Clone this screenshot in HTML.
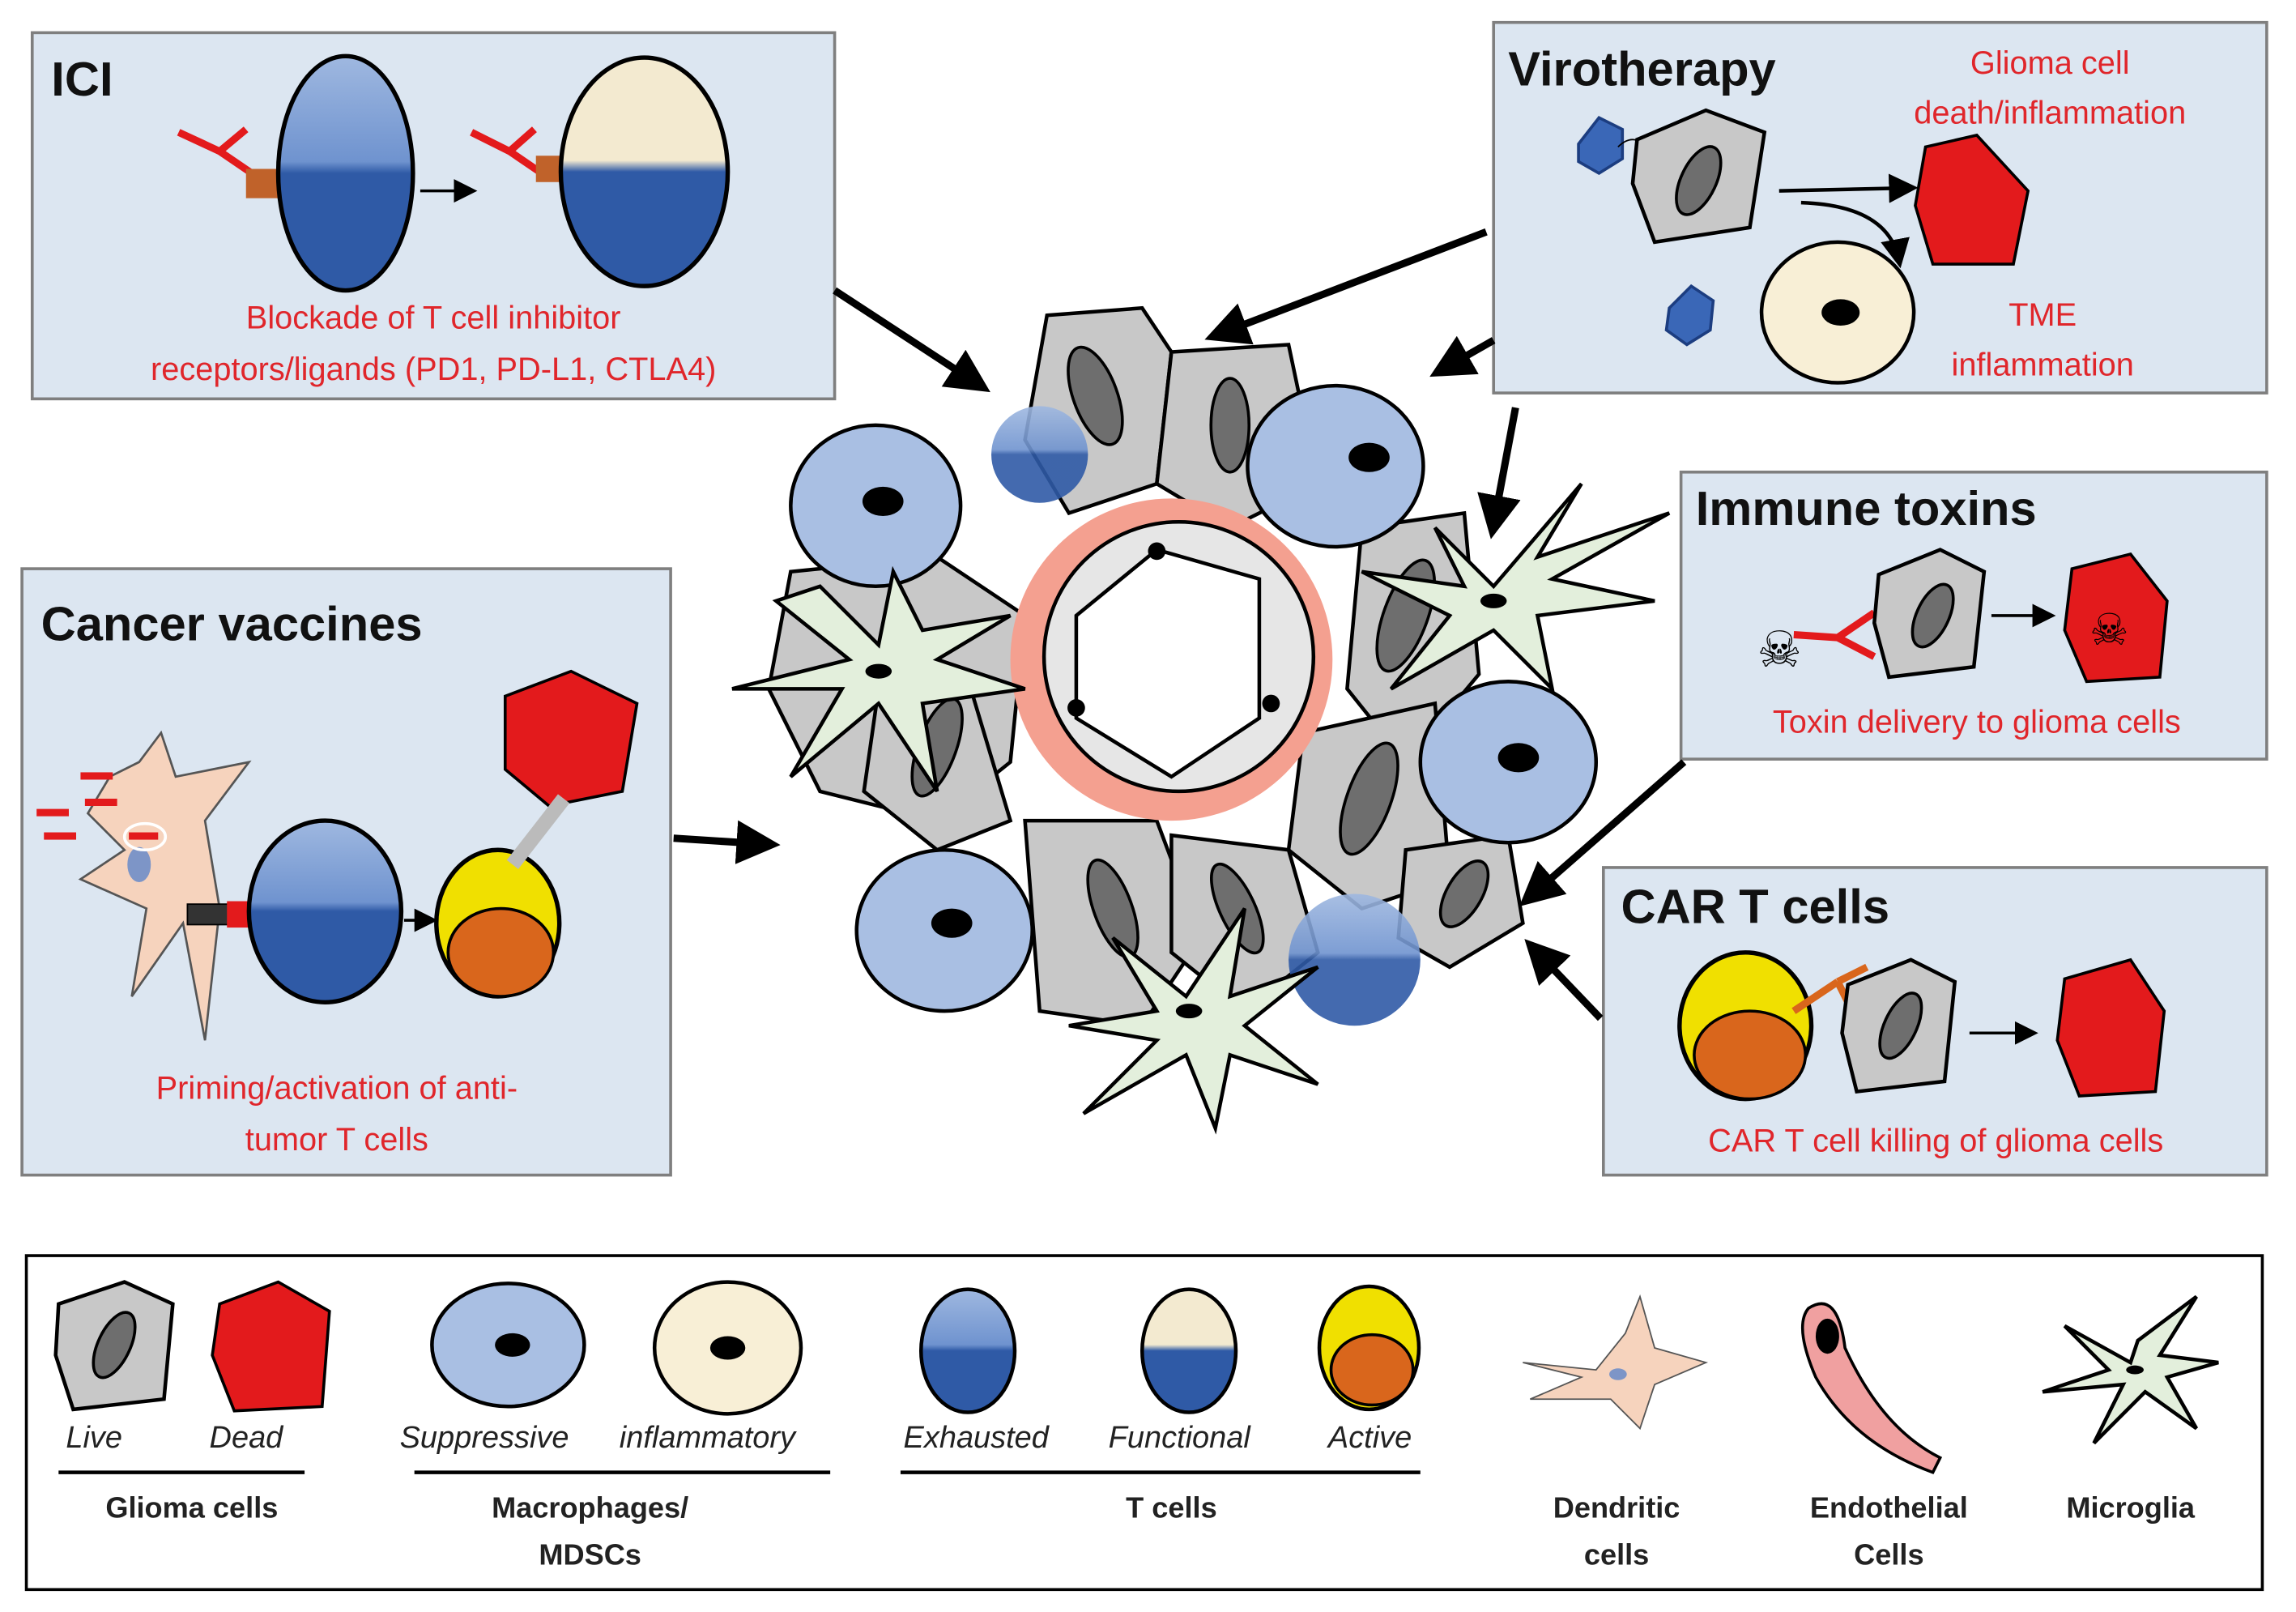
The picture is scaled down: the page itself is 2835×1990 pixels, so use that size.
<!DOCTYPE html>
<html><head><meta charset="utf-8"><style>
html,body{margin:0;padding:0;background:#fff}
svg{display:block}
text{font-family:"Liberation Sans",sans-serif}
.t{font-weight:bold;font-size:33px;fill:#111}
.r{font-size:22px;fill:#e0262b}
.l{font-size:21px;font-style:italic;fill:#222}
.b{font-size:20px;font-weight:bold;fill:#222}
.box{fill:#dce6f1;stroke:#7f7f7f;stroke-width:2}
.g{fill:#c8c8c8;stroke:#000;stroke-width:2.5}
.gn{fill:#6e6e6e;stroke:#000;stroke-width:2}
.m{fill:#a9bfe3;stroke:#000;stroke-width:2.5}
.mg{fill:#e3efdc;stroke:#000;stroke-width:2.5}
.d{fill:#e31a1c;stroke:#000;stroke-width:2}
.a{stroke:#000;stroke-width:5;fill:none}
</style></head><body>
<svg width="2835" height="1990" viewBox="0 0 1568 1100" xmlns="http://www.w3.org/2000/svg">
<defs>
<marker id="ah" markerWidth="6" markerHeight="6" refX="4" refY="3" orient="auto" markerUnits="strokeWidth"><path d="M0,0 L6,3 L0,6z" fill="#000"/></marker>
<marker id="sh" markerWidth="8" markerHeight="8" refX="6" refY="4" orient="auto" markerUnits="strokeWidth"><path d="M0,0 L8,4 L0,8z" fill="#000"/></marker>
<linearGradient id="tc" x1="0" y1="0" x2="0" y2="1"><stop offset="0" stop-color="#9fb8e0"/><stop offset="0.45" stop-color="#6f93cf"/><stop offset="0.5" stop-color="#2f5aa6"/><stop offset="1" stop-color="#2f5aa6"/></linearGradient>
<linearGradient id="tf" x1="0" y1="0" x2="0" y2="1"><stop offset="0" stop-color="#f3ead0"/><stop offset="0.45" stop-color="#f3ead0"/><stop offset="0.5" stop-color="#2f5aa6"/><stop offset="1" stop-color="#2f5aa6"/></linearGradient>
</defs>

<rect class="box" x="22" y="22" width="548" height="250"/>
<rect class="box" x="1020" y="15" width="528" height="253"/>
<rect class="box" x="1148" y="322" width="400" height="196"/>
<rect class="box" x="15" y="388" width="443" height="414"/>
<rect class="box" x="1095" y="592" width="453" height="210"/>
<rect x="18" y="857" width="1527" height="228" fill="#fff" stroke="#000" stroke-width="2"/>

<g>
<polygon class="g" points="715,215 780,210 800,240 790,330 730,350 700,300"/>
<ellipse class="gn" cx="748" cy="270" rx="15" ry="35" transform="rotate(-20 748 270)"/>
<polygon class="g" points="800,240 880,235 900,330 840,360 790,330"/>
<ellipse class="gn" cx="840" cy="290" rx="13" ry="32"/>
<polygon class="g" points="540,390 640,380 700,420 690,520 640,560 560,540 525,470"/>
<polygon class="g" points="930,360 1000,350 1010,460 960,520 920,470"/>
<ellipse class="gn" cx="960" cy="420" rx="15" ry="40" transform="rotate(20 960 420)"/>
<polygon class="g" points="890,500 980,480 990,600 930,620 880,580"/>
<ellipse class="gn" cx="935" cy="545" rx="15" ry="40" transform="rotate(20 935 545)"/>
<polygon class="g" points="960,580 1030,570 1040,630 990,660 955,640"/>
<ellipse class="gn" cx="1000" cy="610" rx="12" ry="25" transform="rotate(30 1000 610)"/>
<polygon class="g" points="700,560 790,560 820,640 780,700 710,690"/>
<ellipse class="gn" cx="760" cy="620" rx="13" ry="35" transform="rotate(-20 760 620)"/>
<polygon class="g" points="800,570 880,580 900,650 850,690 800,650"/>
<ellipse class="gn" cx="845" cy="620" rx="12" ry="33" transform="rotate(-25 845 620)"/>
<polygon class="g" points="600,470 660,460 690,560 640,580 590,540"/>
<ellipse class="gn" cx="640" cy="510" rx="13" ry="35" transform="rotate(20 640 510)"/>
<circle cx="800" cy="450" r="110" fill="#f4a090"/>
<circle cx="805" cy="448" r="92" fill="#e6e6e6" stroke="#000" stroke-width="2.5"/>
<path d="M790,375 L860,395 L860,490 L800,530 L735,490 L735,420 Z" fill="#fff" stroke="#000" stroke-width="2.5"/>
<circle cx="790" cy="376" r="6"/><circle cx="735" cy="483" r="6"/><circle cx="868" cy="480" r="6"/>
<ellipse class="m" cx="598" cy="345" rx="58" ry="55"/><ellipse cx="603" cy="342" rx="14" ry="10"/>
<ellipse class="m" cx="912" cy="318" rx="60" ry="55"/><ellipse cx="935" cy="312" rx="14" ry="10"/>
<ellipse class="m" cx="1030" cy="520" rx="60" ry="55"/><ellipse cx="1037" cy="517" rx="14" ry="10"/>
<ellipse class="m" cx="645" cy="635" rx="60" ry="55"/><ellipse cx="650" cy="630" rx="14" ry="10"/>
<circle cx="710" cy="310" r="33" fill="url(#tc)" opacity="0.9"/>
<circle cx="925" cy="655" r="45" fill="url(#tc)" opacity="0.9"/>
<path class="mg" d="M600,440 L560,400 L530,410 L580,450 L500,470 L575,470 L540,530 L600,480 L640,540 L630,480 L700,470 L640,450 L690,420 L630,430 L610,390 Z"/>
<ellipse cx="600" cy="458" rx="9" ry="5"/>
<path class="mg" d="M1020,400 L980,360 L1000,400 L930,390 L990,420 L950,470 L1020,430 L1060,470 L1050,420 L1130,410 L1060,395 L1140,350 L1050,380 L1080,330 Z"/>
<ellipse cx="1020" cy="410" rx="9" ry="5"/>
<path class="mg" d="M810,680 L760,640 L790,690 L730,700 L790,710 L740,760 L810,720 L830,770 L840,720 L900,740 L850,700 L900,660 L840,680 L850,620 Z"/>
<ellipse cx="812" cy="690" rx="9" ry="5"/>
</g>

<line class="a" x1="570" y1="198" x2="668" y2="262" marker-end="url(#ah)"/>
<line class="a" x1="1015" y1="158" x2="832" y2="228" marker-end="url(#ah)"/>
<line class="a" x1="1020" y1="232" x2="985" y2="252" marker-end="url(#ah)"/>
<line class="a" x1="1035" y1="278" x2="1020" y2="358" marker-end="url(#ah)"/>
<line class="a" x1="1150" y1="520" x2="1045" y2="612" marker-end="url(#ah)"/>
<line class="a" x1="1093" y1="695" x2="1048" y2="648" marker-end="url(#ah)"/>
<line class="a" x1="460" y1="572" x2="523" y2="576" marker-end="url(#ah)"/>

<text class="t" x="35" y="65">ICI</text>
<path d="M122,90 L150,103 L168,88 M150,103 L172,118" stroke="#e31a1c" stroke-width="5" fill="none"/>
<rect x="168" y="115" width="25" height="20" fill="#c0622a"/>
<ellipse cx="236" cy="118" rx="46" ry="80" fill="url(#tc)" stroke="#000" stroke-width="3"/>
<line x1="287" y1="130" x2="322" y2="130" stroke="#000" stroke-width="2" marker-end="url(#sh)"/>
<path d="M322,90 L348,103 L365,88 M348,103 L370,118" stroke="#e31a1c" stroke-width="5" fill="none"/>
<rect x="366" y="106" width="24" height="18" fill="#c0622a"/>
<ellipse cx="440" cy="117" rx="57" ry="78" fill="url(#tf)" stroke="#000" stroke-width="3"/>
<text class="r" x="296" y="224" text-anchor="middle">Blockade of T cell inhibitor</text>
<text class="r" x="296" y="259" text-anchor="middle">receptors/ligands (PD1, PD-L1, CTLA4)</text>

<text class="t" x="1030" y="58">Virotherapy</text>
<text class="r" x="1400" y="50" text-anchor="middle">Glioma cell</text>
<text class="r" x="1400" y="84" text-anchor="middle">death/inflammation</text>
<text class="r" x="1395" y="222" text-anchor="middle">TME</text>
<text class="r" x="1395" y="256" text-anchor="middle">inflammation</text>
<polygon points="1078,98 1092,80 1108,88 1108,108 1092,118 1078,110" fill="#3a67b7" stroke="#1c3d80" stroke-width="2"/>
<path d="M1105,100 q10,-10 20,0" stroke="#000" fill="none"/>
<polygon class="g" points="1118,95 1165,75 1205,90 1195,155 1130,165 1115,125" fill="#b0a69c"/>
<ellipse class="gn" cx="1160" cy="123" rx="12" ry="25" transform="rotate(25 1160 123)"/>
<line x1="1215" y1="130" x2="1305" y2="128" stroke="#000" stroke-width="2.5" marker-end="url(#sh)"/>
<path d="M1230,138 Q1290,140 1297,178" stroke="#000" stroke-width="2.5" fill="none" marker-end="url(#sh)"/>
<polygon class="d" points="1315,100 1350,92 1385,130 1375,180 1320,180 1308,140"/>
<polygon points="1140,210 1155,195 1170,205 1168,225 1152,235 1138,225" fill="#3a67b7" stroke="#1c3d80" stroke-width="2"/>
<ellipse cx="1255" cy="213" rx="52" ry="48" fill="#f8efd6" stroke="#000" stroke-width="2.5"/>
<ellipse cx="1257" cy="213" rx="13" ry="9"/>

<text class="t" x="1158" y="358">Immune toxins</text>
<text x="1200" y="455" font-size="34">☠</text>
<path d="M1225,433 L1255,435 L1280,418 M1255,435 L1280,448" stroke="#e31a1c" stroke-width="5" fill="none"/>
<polygon class="g" points="1283,392 1325,375 1355,390 1348,455 1290,462 1280,425" fill="#b0a69c"/>
<ellipse class="gn" cx="1320" cy="420" rx="11" ry="23" transform="rotate(25 1320 420)"/>
<line x1="1360" y1="420" x2="1400" y2="420" stroke="#000" stroke-width="2" marker-end="url(#sh)"/>
<polygon class="d" points="1415,388 1455,378 1480,410 1475,462 1425,465 1410,430"/>
<text x="1427" y="440" font-size="30">☠</text>
<text class="r" x="1350" y="500" text-anchor="middle">Toxin delivery to glioma cells</text>

<text class="t" x="28" y="437">Cancer vaccines</text>
<path d="M95,520 L110,500 L120,530 L170,520 L140,560 L150,620 L140,710 L125,630 L90,680 L100,620 L55,600 L85,580 L60,555 L75,530 Z" fill="#f6d3bd" stroke="#555" stroke-width="1.5"/>
<ellipse cx="95" cy="590" rx="8" ry="12" fill="#7d95c7"/>
<g fill="#e31a1c"><rect x="55" y="527" width="22" height="5"/><rect x="25" y="552" width="22" height="5"/><rect x="58" y="545" width="22" height="5"/><rect x="30" y="568" width="22" height="5"/><rect x="88" y="568" width="20" height="5"/></g>
<ellipse cx="99" cy="571" rx="14" ry="9" fill="none" stroke="#fff" stroke-width="2"/>
<rect x="128" y="617" width="30" height="14" fill="#333" stroke="#000"/>
<rect x="155" y="615" width="30" height="18" fill="#e31a1c"/>
<ellipse cx="222" cy="622" rx="52" ry="62" fill="url(#tc)" stroke="#000" stroke-width="3"/>
<line x1="276" y1="628" x2="295" y2="628" stroke="#000" stroke-width="2" marker-end="url(#sh)"/>
<ellipse cx="340" cy="630" rx="42" ry="50" fill="#f0e000" stroke="#000" stroke-width="3"/>
<ellipse cx="342" cy="650" rx="36" ry="30" fill="#d9661c" stroke="#000" stroke-width="2"/>
<polygon class="d" points="345,475 390,458 435,480 425,540 375,550 345,525"/>
<path d="M350,590 L385,545" stroke="#bbb" stroke-width="10"/>
<text class="r" x="230" y="750" text-anchor="middle">Priming/activation of anti-</text>
<text class="r" x="230" y="785" text-anchor="middle">tumor  T cells</text>

<text class="t" x="1107" y="630">CAR T cells</text>
<ellipse cx="1192" cy="700" rx="45" ry="50" fill="#f0e000" stroke="#000" stroke-width="3"/>
<ellipse cx="1195" cy="720" rx="38" ry="30" fill="#d9661c" stroke="#000" stroke-width="2"/>
<path d="M1225,690 L1255,670 M1255,670 L1275,660 M1255,670 L1265,690" stroke="#d9661c" stroke-width="5" fill="none"/>
<polygon class="g" points="1262,672 1305,655 1335,670 1328,738 1268,745 1258,705" fill="#b0a69c"/>
<ellipse class="gn" cx="1298" cy="700" rx="11" ry="24" transform="rotate(25 1298 700)"/>
<line x1="1345" y1="705" x2="1388" y2="705" stroke="#000" stroke-width="2" marker-end="url(#sh)"/>
<polygon class="d" points="1410,668 1455,655 1478,690 1472,745 1420,748 1405,710"/>
<text class="r" x="1322" y="786" text-anchor="middle">CAR T cell killing of glioma cells</text>

<polygon class="g" points="40,890 85,875 118,890 112,955 50,962 38,925" fill="#b0a69c"/>
<ellipse class="gn" cx="78" cy="918" rx="11" ry="24" transform="rotate(25 78 918)"/>
<polygon class="d" points="150,890 190,875 225,895 220,960 160,963 145,925"/>
<ellipse class="m" cx="347" cy="918" rx="52" ry="42"/><ellipse cx="350" cy="918" rx="12" ry="8"/>
<ellipse cx="497" cy="920" rx="50" ry="45" fill="#f8efd6" stroke="#000" stroke-width="2.5"/>
<ellipse cx="497" cy="920" rx="12" ry="8"/>
<ellipse cx="661" cy="922" rx="32" ry="42" fill="url(#tc)" stroke="#000" stroke-width="2.5"/>
<ellipse cx="812" cy="922" rx="32" ry="42" fill="url(#tf)" stroke="#000" stroke-width="2.5"/>
<ellipse cx="935" cy="920" rx="34" ry="42" fill="#f0e000" stroke="#000" stroke-width="2.5"/>
<ellipse cx="937" cy="935" rx="28" ry="24" fill="#d9661c" stroke="#000" stroke-width="2"/>
<path d="M1090,935 L1110,910 L1120,885 L1130,920 L1165,930 L1130,945 L1120,975 L1100,955 L1045,955 L1080,940 L1040,930 Z" fill="#f6d3bd" stroke="#555"/>
<ellipse cx="1105" cy="938" rx="6" ry="4" fill="#7d95c7"/>
<path d="M1235,893 Q1255,880 1260,920 Q1285,975 1325,995 L1320,1005 Q1265,985 1240,940 Q1225,905 1235,893 Z" fill="#f0a0a0" stroke="#000" stroke-width="2"/>
<ellipse cx="1248" cy="912" rx="8" ry="12"/>
<path class="mg" d="M1455,930 L1410,905 L1440,935 L1395,950 L1450,945 L1430,985 L1465,950 L1500,975 L1480,940 L1515,930 L1475,925 L1500,885 L1460,915 Z"/>
<ellipse cx="1458" cy="935" rx="6" ry="3"/>
<text class="l" x="45" y="988">Live</text><text class="l" x="143" y="988">Dead</text>
<text class="l" x="273" y="988">Suppressive</text><text class="l" x="423" y="988">inflammatory</text>
<text class="l" x="617" y="988">Exhausted</text><text class="l" x="757" y="988">Functional</text><text class="l" x="907" y="988">Active</text>
<g stroke="#000" stroke-width="2.5"><line x1="40" y1="1005" x2="208" y2="1005"/><line x1="283" y1="1005" x2="567" y2="1005"/><line x1="615" y1="1005" x2="970" y2="1005"/></g>
<text class="b" x="131" y="1036" text-anchor="middle">Glioma cells</text>
<text class="b" x="403" y="1036" text-anchor="middle">Macrophages/</text>
<text class="b" x="403" y="1068" text-anchor="middle">MDSCs</text>
<text class="b" x="800" y="1036" text-anchor="middle">T cells</text>
<text class="b" x="1104" y="1036" text-anchor="middle">Dendritic</text>
<text class="b" x="1104" y="1068" text-anchor="middle">cells</text>
<text class="b" x="1290" y="1036" text-anchor="middle">Endothelial</text>
<text class="b" x="1290" y="1068" text-anchor="middle">Cells</text>
<text class="b" x="1455" y="1036" text-anchor="middle">Microglia</text>
</svg>
</body></html>
